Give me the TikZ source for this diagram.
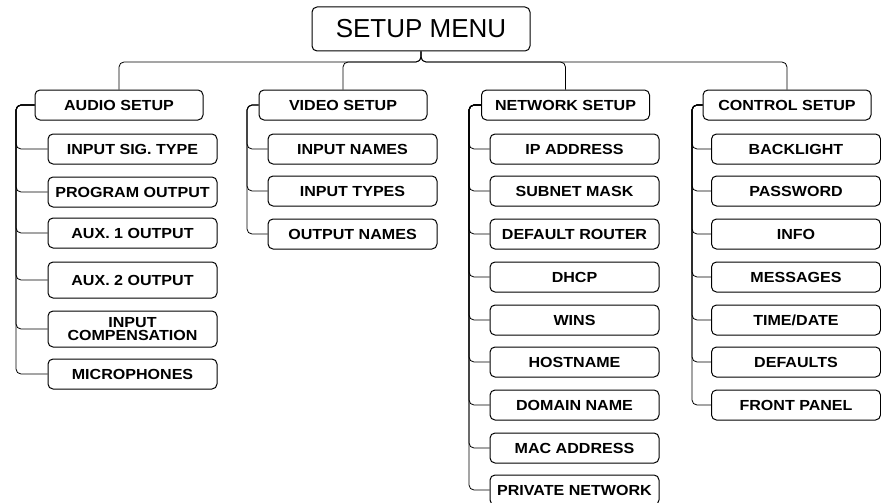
\documentclass[tikz,border=0pt]{standalone}
\usepackage{fontspec}
\setmainfont{Liberation Sans}
\newfontfamily\boxfont{Liberation Sans}[FakeStretch=1.1]
\usetikzlibrary{positioning}

\begin{document}
\begin{tikzpicture}[
  x=1pt, y=-1pt,
  box/.style={draw, line width=1pt, rounded corners=5pt, inner sep=0pt, align=center},
  menu/.style={box, minimum width=218pt, minimum height=44pt, font=\fontsize{26}{28}\selectfont},
  group/.style={box, minimum width=168pt, minimum height=30pt,
                font=\boxfont\bfseries\fontsize{14.6}{13}\selectfont},
  item/.style={group, minimum width=169pt},
  tall/.style={item, minimum height=36pt},
  link/.style={line width=0.8pt, rounded corners=5pt},
]
  \useasboundingbox (0,0) rectangle (881,503);

  % ---------------- top level ----------------
  \node[menu] (menu) at (421,29) {SETUP MENU};
  \node[group] (audio) at (119,105) {AUDIO SETUP};
  \node[group] (video) at (343,105) {VIDEO SETUP};
  \node[group] (network) at (565.5,105) {NETWORK SETUP};
  \node[group] (control) at (787,105) {CONTROL SETUP};
  \coordinate (hub) at (421,62);
  \foreach \g in {audio,video,network,control}
    \draw[link] (\g.north) |- (hub) -- (menu.south);

  % ---------------- audio ----------------
  \node[item] (ainsig) at (132.5,149) {INPUT SIG. TYPE};
  \node[item] (aprog) at (132.5,192) {PROGRAM OUTPUT};
  \node[item] (aaux1) at (132.5,233) {AUX. 1 OUTPUT};
  \node[tall] (aaux2) at (132.5,280) {AUX. 2 OUTPUT};
  \node[tall] (acomp) at (132.5,329) {INPUT\\COMPENSATION};
  \node[item] (amic) at (132.5,374) {MICROPHONES};
  \coordinate (atrunk) at (16,105);
  \foreach \c in {ainsig,aprog,aaux1,aaux2,acomp,amic}
    \draw[link] (audio.west) -| (atrunk |- \c.west) -- (\c.west);

  % ---------------- video ----------------
  \node[item] (vinnames) at (352.5,149) {INPUT NAMES};
  \node[item] (vintypes) at (352.5,191) {INPUT TYPES};
  \node[item] (voutnames) at (352.5,234) {OUTPUT NAMES};
  \coordinate (vtrunk) at (247,105);
  \foreach \c in {vinnames,vintypes,voutnames}
    \draw[link] (video.west) -| (vtrunk |- \c.west) -- (\c.west);

  % ---------------- network ----------------
  \node[item] (nip) at (574.5,149) {IP ADDRESS};
  \node[item] (nsubnet) at (574.5,191) {SUBNET MASK};
  \node[item] (nrouter) at (574.5,234) {DEFAULT ROUTER};
  \node[item] (ndhcp) at (574.5,277) {DHCP};
  \node[item] (nwins) at (574.5,320) {WINS};
  \node[item] (nhost) at (574.5,362) {HOSTNAME};
  \node[item] (ndomain) at (574.5,405) {DOMAIN NAME};
  \node[item] (nmac) at (574.5,448) {MAC ADDRESS};
  \node[item] (nprivate) at (574.5,490) {PRIVATE NETWORK};
  \coordinate (ntrunk) at (469,105);
  \foreach \c in {nip,nsubnet,nrouter,ndhcp,nwins,nhost,ndomain,nmac,nprivate}
    \draw[link] (network.west) -| (ntrunk |- \c.west) -- (\c.west);

  % ---------------- control ----------------
  \node[item] (cback) at (796,149) {BACKLIGHT};
  \node[item] (cpass) at (796,191) {PASSWORD};
  \node[item] (cinfo) at (796,234) {INFO};
  \node[item] (cmsg) at (796,277) {MESSAGES};
  \node[item] (ctime) at (796,320) {TIME/DATE};
  \node[item] (cdef) at (796,362) {DEFAULTS};
  \node[item] (cfront) at (796,405) {FRONT PANEL};
  \coordinate (ctrunk) at (692,105);
  \foreach \c in {cback,cpass,cinfo,cmsg,ctime,cdef,cfront}
    \draw[link] (control.west) -| (ctrunk |- \c.west) -- (\c.west);
\end{tikzpicture}
\end{document}
